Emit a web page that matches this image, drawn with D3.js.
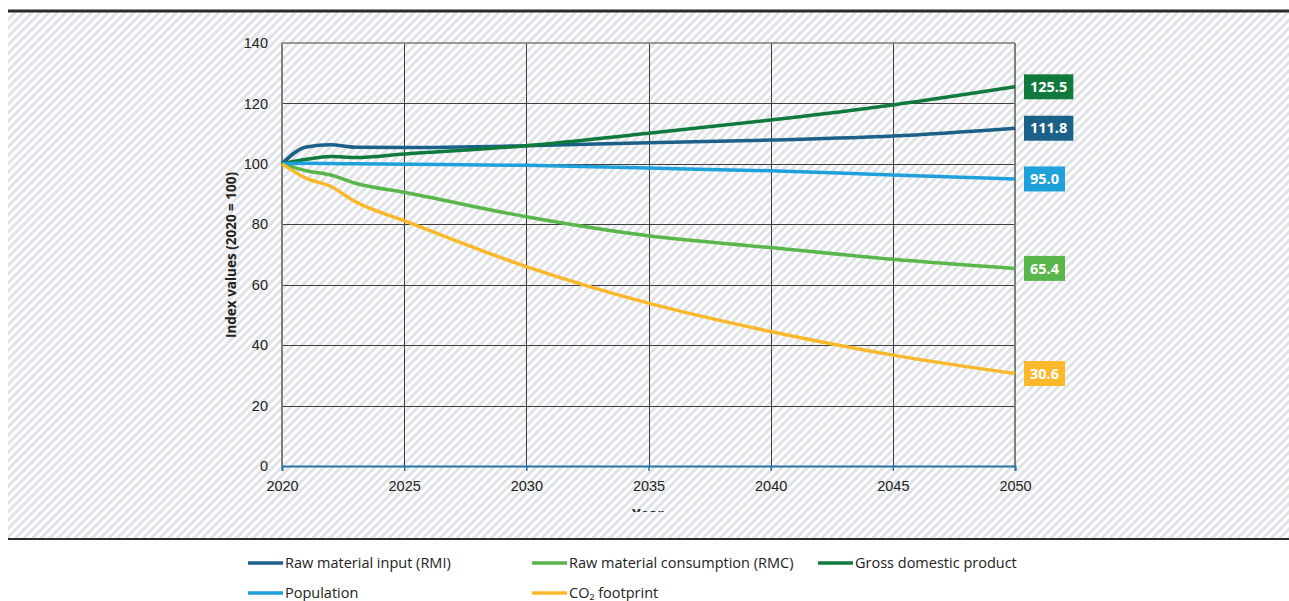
<!DOCTYPE html>
<html>
<head>
<meta charset="utf-8">
<script src="https://cdn.jsdelivr.net/npm/d3@7"></script>
<style>
  body { margin: 0; background: #fff; }
  svg { display: block; font-family: "Open Sans", "Noto Sans", sans-serif; }
</style>
</head>
<body>
<div id="my_dataviz"></div>
<script>
// data
const years = [2020, 2021, 2022, 2023, 2025, 2030, 2035, 2040, 2045, 2050];
const rmi = [100, 105.6, 106.3, 105.5, 105.4, 106.0, 107.0, 107.9, 109.2, 111.8];
const rmc = [100, 97.7, 96.3, 93.6, 90.6, 82.5, 76.2, 72.3, 68.4, 65.4];
const gdp = [100, 101.5, 102.4, 102.1, 103.3, 106.0, 110.1, 114.5, 119.5, 125.5];
const population = [100, 100.2, 100.1, 100.0, 99.9, 99.5, 98.6, 97.7, 96.3, 95.0];
const co2 = [100, 95.2, 92.5, 87.5, 81.2, 66.0, 53.9, 44.5, 36.7, 30.6];
const seriesNames = ["Raw material input (RMI)", "Raw material consumption (RMC)", "Gross domestic product", "Population", "CO₂ footprint"];
const xTicks = [2020, 2025, 2030, 2035, 2040, 2045, 2050];
const yTicks = [0, 20, 40, 60, 80, 100, 120, 140];

const colors = ["#1b6089", "#59b64b", "#107a3d", "#1ea0da", "#fbb82a"];
const series = [rmi, rmc, gdp, population, co2].map((v, i) => ({
  name: seriesNames[i], color: colors[i], values: years.map((y, j) => ({year: y, value: v[j]}))
}));

// dimensions
const W = 1289, H = 601;
const margin = {top: 43, left: 282},
    width = 1015 - margin.left,
    height = 466 - margin.top;

const svg = d3.select("#my_dataviz")
  .append("svg")
    .attr("width", W)
    .attr("height", H);

// hatched background
const defs = svg.append("defs");
const pat = defs.append("pattern")
    .attr("id", "hatch")
    .attr("patternUnits", "userSpaceOnUse")
    .attr("width", 6).attr("height", 6)
    .attr("patternTransform", "rotate(45)");
pat.append("rect").attr("width", 6).attr("height", 6).attr("fill", "#ffffff");
pat.append("rect").attr("width", 3).attr("height", 6).attr("fill", "#dfe2e6");

defs.append("clipPath").attr("id", "panelClip")
  .append("rect").attr("x", 8).attr("y", 12).attr("width", W - 8).attr("height", 500);

svg.append("rect")
    .attr("x", 8).attr("y", 12)
    .attr("width", W - 8).attr("height", 527)
    .attr("fill", "url(#hatch)");
svg.append("rect")
    .attr("x", 8).attr("y", 9.5)
    .attr("width", W - 8).attr("height", 3)
    .attr("fill", "#2b2b2b");
svg.append("rect")
    .attr("x", 8).attr("y", 538)
    .attr("width", W - 8).attr("height", 2)
    .attr("fill", "#2e2e2e");

const g = svg.append("g")
    .attr("transform", `translate(${margin.left},${margin.top})`);

// scales
const x = d3.scaleLinear().domain([2020, 2050]).range([0, width]);
const y = d3.scaleLinear().domain([0, 140]).range([height, 0]);

// grid
g.append("g")
  .selectAll("line")
  .data(yTicks.filter(d => d > 0 && d < 140))
  .join("line")
    .attr("x1", 0).attr("x2", width)
    .attr("y1", d => Math.round(y(d)) + 0.5).attr("y2", d => Math.round(y(d)) + 0.5)
    .attr("stroke", "#404040").attr("stroke-width", 1);
g.append("g")
  .selectAll("line")
  .data(xTicks.filter(d => d > 2020 && d < 2050))
  .join("line")
    .attr("x1", d => Math.round(x(d)) + 0.5).attr("x2", d => Math.round(x(d)) + 0.5)
    .attr("y1", 0).attr("y2", height)
    .attr("stroke", "#404040").attr("stroke-width", 1);

// frame
g.append("line").attr("x1", 0).attr("x2", width).attr("y1", 0).attr("y2", 0)
    .attr("stroke", "#7a7a7a").attr("stroke-width", 1.5);
g.append("line").attr("x1", 0).attr("x2", 0).attr("y1", 0).attr("y2", height)
    .attr("stroke", "#7f7f7f").attr("stroke-width", 2);
g.append("line").attr("x1", width).attr("x2", width).attr("y1", 0).attr("y2", height)
    .attr("stroke", "#7f7f7f").attr("stroke-width", 2);

// Y axis
const yAxis = g.append("g")
    .call(d3.axisLeft(y).tickValues(yTicks).tickSize(0).tickPadding(14));
yAxis.select(".domain").remove();
yAxis.selectAll("text")
    .attr("fill", "#222")
    .style("font-size", "14.5px");

// X axis
const xAxis = g.append("g")
    .attr("transform", `translate(0,${height})`)
    .call(d3.axisBottom(x).tickValues(xTicks).tickFormat(d3.format("d")).tickSize(5).tickPadding(10));
xAxis.select(".domain").attr("stroke", "#2574a3").attr("stroke-width", 2);
xAxis.selectAll(".tick line").attr("stroke", "#2574a3").attr("stroke-width", 1.5);
xAxis.selectAll("text")
    .attr("fill", "#222")
    .style("font-size", "14.5px");

// axis titles
svg.append("text")
    .attr("transform", "translate(236,255) rotate(-90)")
    .attr("text-anchor", "middle")
    .attr("fill", "#222")
    .style("font-size", "13.5px")
    .style("font-weight", "bold")
    .text("Index values (2020 = 100)");
svg.append("text")
    .attr("x", 648).attr("y", 519)
    .attr("text-anchor", "middle")
    .attr("clip-path", "url(#panelClip)")
    .attr("fill", "#222")
    .style("font-size", "14px")
    .style("font-weight", "bold")
    .text("Year");

// lines
const line = d3.line()
    .curve(d3.curveMonotoneX)
    .x(d => x(d.year))
    .y(d => y(d.value));

g.append("g")
  .selectAll("path")
  .data(series)
  .join("path")
    .attr("d", d => line(d.values))
    .attr("fill", "none")
    .attr("stroke", d => d.color)
    .attr("stroke-width", 3.5)
    .attr("stroke-linejoin", "round");

// end labels
const labels = g.append("g")
  .selectAll("g")
  .data(series)
  .join("g")
    .attr("transform", d => `translate(${width + 9},${y(d.values[d.values.length - 1].value)})`);
labels.append("text")
    .attr("x", 6).attr("dy", "0.36em")
    .attr("fill", "#fff")
    .style("font-size", "14.5px")
    .style("font-weight", "bold")
    .text(d => d.values[d.values.length - 1].value.toFixed(1))
    .each(function () {
      const w = this.getComputedTextLength();
      d3.select(this.parentNode).insert("rect", "text")
        .attr("x", 0).attr("y", -12.5)
        .attr("width", w + 12).attr("height", 25)
        .attr("fill", d3.select(this.parentNode).datum().color);
    });

// legend
const legendPos = [[248, 563], [532, 563], [818, 563], [248, 593], [532, 593]];
const legend = svg.append("g")
  .selectAll("g")
  .data(series)
  .join("g")
    .attr("transform", (d, i) => `translate(${legendPos[i][0]},${legendPos[i][1]})`);
legend.append("line")
    .attr("x1", 0).attr("x2", 35)
    .attr("stroke", d => d.color)
    .attr("stroke-width", 3.5);
legend.append("text")
    .attr("x", 37).attr("dy", "0.35em")
    .attr("fill", "#222")
    .style("font-size", "14.5px")
    .text(d => d.name);
</script>
</body>
</html>
